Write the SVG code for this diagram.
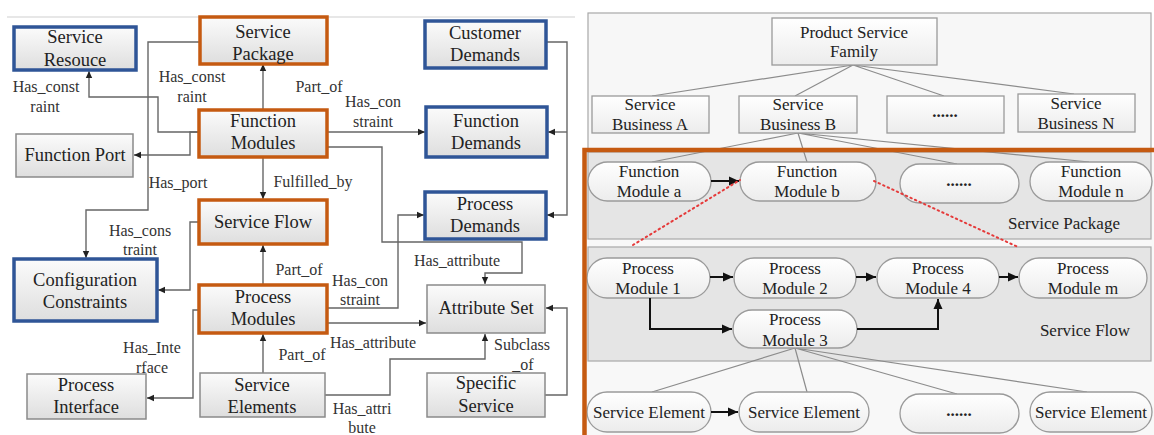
<svg xmlns="http://www.w3.org/2000/svg" width="1154" height="435" viewBox="0 0 1154 435">
<defs>
<linearGradient id="gbox" x1="0" y1="0" x2="0" y2="1"><stop offset="0" stop-color="#fbfbfb"/><stop offset="1" stop-color="#dedede"/></linearGradient>
<linearGradient id="gpill" x1="0" y1="0" x2="0" y2="1"><stop offset="0" stop-color="#ffffff"/><stop offset="1" stop-color="#ececec"/></linearGradient>
<marker id="ah" markerWidth="8" markerHeight="8" refX="7" refY="4" orient="auto" markerUnits="userSpaceOnUse"><path d="M0,0.8 L7,4 L0,7.2 z" fill="#222"/></marker>
<marker id="ahb" markerWidth="12" markerHeight="12" refX="10" refY="5" orient="auto" markerUnits="userSpaceOnUse"><path d="M0,0.5 L10,5 L0,9.5 z" fill="#111"/></marker>
<style>
.t{font-family:"Liberation Serif","Times New Roman",serif;font-size:18.5px;fill:#222;text-anchor:middle}
.l{font-family:"Liberation Serif","Times New Roman",serif;font-size:16px;fill:#333;text-anchor:middle}
.r{font-family:"Liberation Serif","Times New Roman",serif;font-size:17px;fill:#222;text-anchor:middle}
.d{font-family:"Liberation Serif","Times New Roman",serif;font-size:17px;font-weight:bold;fill:#222;text-anchor:middle}
.bb{fill:url(#gbox);stroke:#2F5597;stroke-width:3.5}
.bo{fill:url(#gbox);stroke:#C55A11;stroke-width:3.5}
.bg{fill:url(#gbox);stroke:#8a8a8a;stroke-width:1.5}
.c{fill:none;stroke:#666;stroke-width:1.4;marker-end:url(#ah)}
.cn{fill:none;stroke:#666;stroke-width:1.4}
.pill{fill:url(#gpill);stroke:#9a9a9a;stroke-width:1.3}
.rb{fill:url(#gpill);stroke:#9a9a9a;stroke-width:1.3}
.fan{stroke:#8c8c8c;stroke-width:1.2;fill:none}
.ar{fill:none;stroke:#111;stroke-width:2;marker-end:url(#ahb)}
.red{fill:none;stroke:#e53a3a;stroke-width:2;stroke-dasharray:1.5 3.5;stroke-linecap:round}
</style>
</defs>
<rect width="1154" height="435" fill="#ffffff"/>
<line x1="7" y1="17" x2="575" y2="17" stroke="#cfcfcf" stroke-width="1"/>

<g id="connectors">
<path class="c" d="M263,110 V64"/>
<path class="c" d="M199,132 H158 V97 H89 V71"/>
<path class="c" d="M199,132 H190 V155 H134"/>
<path class="c" d="M200,42 H148 V210 H86 V258"/>
<path class="c" d="M327,132 H425"/>
<path class="c" d="M327,147 H382 V242 H522 V273 H485 V284"/>
<path class="c" d="M546,42 H567 V215 H547"/>
<path class="c" d="M567,132 H548"/>
<path class="c" d="M263,157 V199"/>
<path class="c" d="M199,222 H190 V290 H158"/>
<path class="c" d="M263,285 V245"/>
<path class="c" d="M327,308 H398 V215 H424"/>
<path class="c" d="M327,323 H426"/>
<path class="c" d="M199,310 H193 V398 H147"/>
<path class="c" d="M263,373 V334"/>
<path class="c" d="M325,395 H390 V359 H485 V334"/>
<path class="c" d="M545,395 H567 V308 H546"/>
</g>

<g id="labels">
<text class="l" x="46" y="92">Has_const</text><text class="l" x="45" y="112">raint</text>
<text class="l" x="192" y="82">Has_const</text><text class="l" x="192" y="102">raint</text>
<text class="l" x="319" y="92">Part_of</text>
<text class="l" x="373" y="107">Has_con</text><text class="l" x="373" y="127">straint</text>
<text class="l" x="178" y="188">Has_port</text>
<text class="l" x="313" y="187">Fulfilled_by</text>
<text class="l" x="140" y="236">Has_cons</text><text class="l" x="140" y="255">traint</text>
<text class="l" x="457" y="266">Has_attribute</text>
<text class="l" x="299" y="275">Part_of</text>
<text class="l" x="360" y="286">Has_con</text><text class="l" x="360" y="305">straint</text>
<text class="l" x="373" y="348">Has_attribute</text>
<text class="l" x="302" y="360">Part_of</text>
<text class="l" x="522" y="350">Subclass</text><text class="l" x="523" y="370">_of</text>
<text class="l" x="152" y="353">Has_Inte</text><text class="l" x="152" y="373">rface</text>
<text class="l" x="362" y="414">Has_attri</text><text class="l" x="362" y="433">bute</text>
</g>

<g id="n-service-resouce"><rect class="bb" x="14" y="27" width="122" height="43"/><text class="t" x="75" y="43">Service</text><text class="t" x="75" y="66">Resouce</text></g>
<g id="n-service-package"><rect class="bo" x="200" y="17" width="127" height="47"/><text class="t" x="263" y="38">Service</text><text class="t" x="263" y="60">Package</text></g>
<g id="n-customer-demands"><rect class="bb" x="425" y="21" width="121" height="47"/><text class="t" x="485" y="39">Customer</text><text class="t" x="485" y="61">Demands</text></g>
<g id="n-function-modules"><rect class="bo" x="199" y="110" width="128" height="47"/><text class="t" x="263" y="127">Function</text><text class="t" x="263" y="149">Modules</text></g>
<g id="n-function-demands"><rect class="bb" x="426" y="107" width="121" height="50"/><text class="t" x="486" y="127">Function</text><text class="t" x="486" y="149">Demands</text></g>
<g id="n-function-port"><rect class="bg" x="16" y="134" width="117" height="43"/><text class="t" x="75" y="161">Function Port</text></g>
<g id="n-service-flow"><rect class="bo" x="199" y="200" width="128" height="44"/><text class="t" x="263" y="228">Service Flow</text></g>
<g id="n-process-demands"><rect class="bb" x="425" y="192" width="121" height="47"/><text class="t" x="485" y="210">Process</text><text class="t" x="485" y="232">Demands</text></g>
<g id="n-config-constraints"><rect class="bb" x="14" y="259" width="143" height="62"/><text class="t" x="85" y="286">Configuration</text><text class="t" x="85" y="308">Constraints</text></g>
<g id="n-process-modules"><rect class="bo" x="199" y="285" width="128" height="48"/><text class="t" x="263" y="303">Process</text><text class="t" x="263" y="325">Modules</text></g>
<g id="n-attribute-set"><rect class="bg" x="427" y="285" width="118" height="48"/><text class="t" x="486" y="314">Attribute Set</text></g>
<g id="n-process-interface"><rect class="bg" x="27" y="374" width="119" height="45"/><text class="t" x="86" y="391">Process</text><text class="t" x="86" y="413">Interface</text></g>
<g id="n-service-elements"><rect class="bg" x="200" y="373" width="125" height="44"/><text class="t" x="262" y="391">Service</text><text class="t" x="262" y="413">Elements</text></g>
<g id="n-specific-service"><rect class="bg" x="427" y="373" width="118" height="44"/><text class="t" x="486" y="389">Specific</text><text class="t" x="486" y="412">Service</text></g>

<!-- Right panel -->
<rect x="588" y="13" width="563" height="140" fill="#f7f7f7" stroke="#a8a8a8" stroke-width="1.2"/>
<rect x="586" y="150" width="568" height="290" fill="#f8f8f8"/>
<rect x="588" y="152" width="563" height="87" fill="#e5e5e5" stroke="#a8a8a8" stroke-width="1.2"/>
<rect x="588" y="247" width="563" height="114" fill="#e5e5e5" stroke="#a8a8a8" stroke-width="1.2"/>

<g id="tree-lines">
<path class="fan" d="M853,65 L652,96 M853,65 L795,96 M853,65 L944,96 M853,65 L1074,94"/>
<path class="fan" d="M798,133 L652,162 M798,133 L807,162 M798,133 L957,164 M798,133 L1089,162"/>
<path class="fan" d="M795,348 L652,392 M795,348 L807,392 M795,348 L957,394 M795,348 L1087,392"/>
</g>

<g id="n-product-service-family"><rect class="rb" x="772" y="18" width="165" height="47"/><text class="r" x="854" y="38">Product Service</text><text class="r" x="854" y="57">Family</text></g>
<g id="n-sb-a"><rect class="rb" x="592" y="96" width="117" height="37"/><text class="r" x="650" y="110">Service</text><text class="r" x="650" y="130">Business A</text></g>
<g id="n-sb-b"><rect class="rb" x="739" y="96" width="118" height="37"/><text class="r" x="798" y="110">Service</text><text class="r" x="798" y="130">Business B</text></g>
<g id="n-sb-dots"><rect class="rb" x="887" y="96" width="117" height="37"/><text class="d" x="945" y="117">......</text></g>
<g id="n-sb-n"><rect class="rb" x="1018" y="94" width="117" height="38"/><text class="r" x="1076" y="109">Service</text><text class="r" x="1076" y="129">Business N</text></g>

<g id="n-fm-a"><rect class="pill" x="588" y="162" width="123" height="39" rx="19.5"/><text class="r" x="649" y="177">Function</text><text class="r" x="649" y="197">Module a</text></g>
<g id="n-fm-b"><rect class="pill" x="740" y="162" width="136" height="39" rx="19.5"/><text class="r" x="807" y="177">Function</text><text class="r" x="807" y="197">Module b</text></g>
<g id="n-fm-dots"><rect class="pill" x="900" y="164" width="119" height="39" rx="19.5"/><text class="d" x="959" y="186">......</text></g>
<g id="n-fm-n"><rect class="pill" x="1030" y="162" width="122" height="39" rx="19.5"/><text class="r" x="1091" y="177">Function</text><text class="r" x="1091" y="197">Module n</text></g>
<text class="r" x="1064" y="229">Service Package</text>

<g id="n-pm-1"><rect class="pill" x="587" y="258" width="123" height="40" rx="20"/><text class="r" x="648" y="274">Process</text><text class="r" x="648" y="294">Module 1</text></g>
<g id="n-pm-2"><rect class="pill" x="734" y="258" width="122" height="40" rx="20"/><text class="r" x="795" y="274">Process</text><text class="r" x="795" y="294">Module 2</text></g>
<g id="n-pm-4"><rect class="pill" x="877" y="258" width="122" height="40" rx="20"/><text class="r" x="938" y="274">Process</text><text class="r" x="938" y="294">Module 4</text></g>
<g id="n-pm-m"><rect class="pill" x="1019" y="258" width="128" height="40" rx="20"/><text class="r" x="1083" y="274">Process</text><text class="r" x="1083" y="294">Module m</text></g>
<g id="n-pm-3"><rect class="pill" x="733" y="310" width="124" height="38" rx="19"/><text class="r" x="795" y="325">Process</text><text class="r" x="795" y="346">Module 3</text></g>
<text class="r" x="1085" y="336">Service Flow</text>

<g id="n-se-1"><rect class="pill" x="587" y="392" width="124" height="40" rx="20"/><text class="r" x="649" y="418">Service Element</text></g>
<g id="n-se-2"><rect class="pill" x="739" y="392" width="130" height="40" rx="20"/><text class="r" x="804" y="418">Service Element</text></g>
<g id="n-se-dots"><rect class="pill" x="900" y="394" width="119" height="39" rx="19.5"/><text class="d" x="959" y="416">......</text></g>
<g id="n-se-last"><rect class="pill" x="1030" y="392" width="122" height="40" rx="20"/><text class="r" x="1091" y="418">Service Element</text></g>

<g id="right-connectors">
<path class="ar" d="M711,181 H739"/>
<path class="ar" d="M710,277 H733"/>
<path class="ar" d="M856,277 H876"/>
<path class="ar" d="M999,277 H1018"/>
<path class="ar" d="M650,298 V329 H732"/>
<path class="ar" d="M857,329 H938 V299"/>
<path class="ar" d="M711,412 H738"/>
<path class="red" d="M633,245 L740,180"/>
<path class="red" d="M874,181 L1018,247"/>
</g>

<rect x="584.5" y="150" width="572" height="300" fill="none" stroke="#C55A11" stroke-width="4.5"/>
</svg>
